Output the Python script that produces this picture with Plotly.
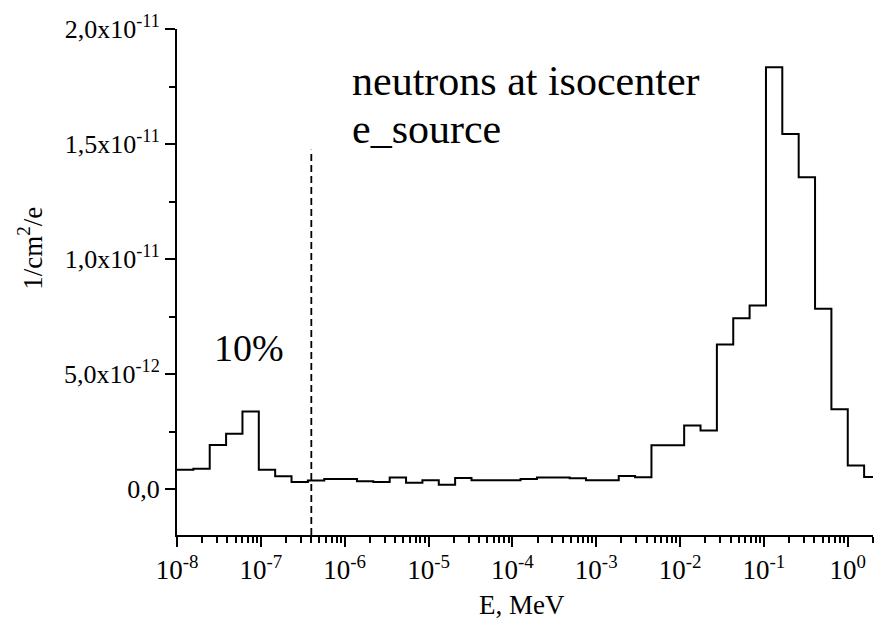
import plotly.graph_objects as go

# Bin edges (MeV), log-uniform bins
bin_edges = [1.000e-8, 1.567e-8, 2.456e-8, 3.850e-8, 6.034e-8, 9.454e-8,
             1.482e-7, 2.322e-7, 3.640e-7, 5.704e-7, 8.939e-7,
             1.401e-6, 2.196e-6, 3.441e-6, 5.393e-6, 8.452e-6,
             1.325e-5, 2.076e-5, 3.254e-5, 5.099e-5, 7.991e-5,
             1.252e-4, 1.963e-4, 3.076e-4, 4.821e-4, 7.556e-4,
             1.184e-3, 1.856e-3, 2.908e-3, 4.557e-3, 7.142e-3,
             1.119e-2, 1.754e-2, 2.748e-2, 4.307e-2, 6.750e-2,
             0.1058, 0.1657, 0.2598, 0.4071, 0.6381,
             1.000, 1.567, 2.456]

# Fluence per bin, 1/cm^2/e (units of 1e-12)
fluence_e12 = [0.84, 0.88, 1.91, 2.40, 3.37, 0.84, 0.55, 0.30, 0.37, 0.44,
               0.44, 0.34, 0.30, 0.50, 0.27, 0.38, 0.18, 0.48, 0.38, 0.38,
               0.38, 0.44, 0.50, 0.50, 0.47, 0.38, 0.38, 0.57, 0.51, 1.90,
               1.90, 2.76, 2.54, 6.28, 7.42, 7.98, 18.34, 15.43, 13.55, 7.84,
               3.47, 1.02, 0.52]

cutoff_energy = 4e-7          # dashed marker line, MeV
cutoff_top = 1.475e-11

x_tickvals = [1e-8, 1e-7, 1e-6, 1e-5, 1e-4, 1e-3, 1e-2, 1e-1, 1e0]
x_ticktext = ["10<sup>%d</sup>" % p for p in [-8, -7, -6, -5, -4, -3, -2, -1, 0]]
y_tickvals = [0, 5e-12, 1e-11, 1.5e-11, 2e-11]
y_ticktext = ["0,0", "5,0x10<sup>-12</sup>", "1,0x10<sup>-11</sup>",
              "1,5x10<sup>-11</sup>", "2,0x10<sup>-11</sup>"]

FONT = "Times New Roman, Liberation Serif, serif"

vals = [v * 1e-12 for v in fluence_e12]
hx = list(bin_edges)
hy = vals + [vals[-1]]

fig = go.Figure()
fig.add_trace(go.Scatter(x=hx, y=hy, mode="lines", line_shape="hv",
                         line=dict(color="black", width=2), showlegend=False,
                         hoverinfo="skip"))
fig.add_trace(go.Scatter(x=[cutoff_energy, cutoff_energy], y=[-2e-12, cutoff_top],
                         mode="lines", line=dict(color="black", width=1.8, dash="7px,4px"),
                         showlegend=False, hoverinfo="skip"))

minor_x = [m * 10.0 ** d for d in range(-8, 1) for m in range(2, 10) if m * 10.0 ** d <= 2.0]

fig.update_xaxes(type="log", range=[-8, 0.30103], showline=True, linecolor="black",
                 linewidth=2, ticks="outside", ticklen=10, tickwidth=1.5, tickcolor="black",
                 tickmode="array", tickvals=x_tickvals, ticktext=x_ticktext,
                 minor=dict(tickmode="array", tickvals=minor_x, ticks="outside",
                            ticklen=6, tickwidth=1.5, tickcolor="black"),
                 showgrid=False, zeroline=False,
                 tickfont=dict(family=FONT, size=27, color="black"))
fig.update_yaxes(range=[-2e-12, 2e-11], showline=True, linecolor="black", linewidth=2,
                 ticks="outside", ticklen=10, tickwidth=1.5, tickcolor="black",
                 tickmode="array", tickvals=y_tickvals, ticktext=y_ticktext,
                 minor=dict(tickmode="array", tickvals=[2.5e-12, 7.5e-12, 1.25e-11, 1.75e-11],
                            ticks="outside", ticklen=6, tickwidth=1.5, tickcolor="black"),
                 showgrid=False, zeroline=False,
                 tickfont=dict(family=FONT, size=26, color="black"))

W, H = 884, 627
L, R, T, B = 177, 11, 19, 92
pw, ph = W - L - R, H - T - B

def px(x):
    return (x - L) / pw

def py(y):
    return (H - B - y) / ph

annots = [
    dict(text="neutrons at isocenter", x=px(350), y=py(72), size=42),
    dict(text="e_source", x=px(350), y=py(121), size=42),
    dict(text="10%", x=px(212), y=py(344), size=38),
]
for a in annots:
    fig.add_annotation(text=a["text"], xref="paper", yref="paper", x=a["x"], y=a["y"],
                       xanchor="left", yanchor="middle", showarrow=False,
                       font=dict(family=FONT, size=a["size"], color="black"))

fig.add_annotation(text="E, MeV", xref="paper", yref="paper", x=px(522), y=py(606),
                   xanchor="center", yanchor="middle", showarrow=False,
                   font=dict(family=FONT, size=27, color="black"))
fig.add_annotation(text="1/cm<sup>2</sup>/e",
                   xref="paper", yref="paper", x=px(30), y=py(243), textangle=-90,
                   xanchor="center", yanchor="middle", showarrow=False,
                   font=dict(family=FONT, size=27, color="black"))

fig.update_layout(width=W, height=H, margin=dict(l=L, r=R, t=T, b=B),
                  paper_bgcolor="white", plot_bgcolor="white",
                  font=dict(family=FONT, color="black"))

fig.write_html("out.html")
